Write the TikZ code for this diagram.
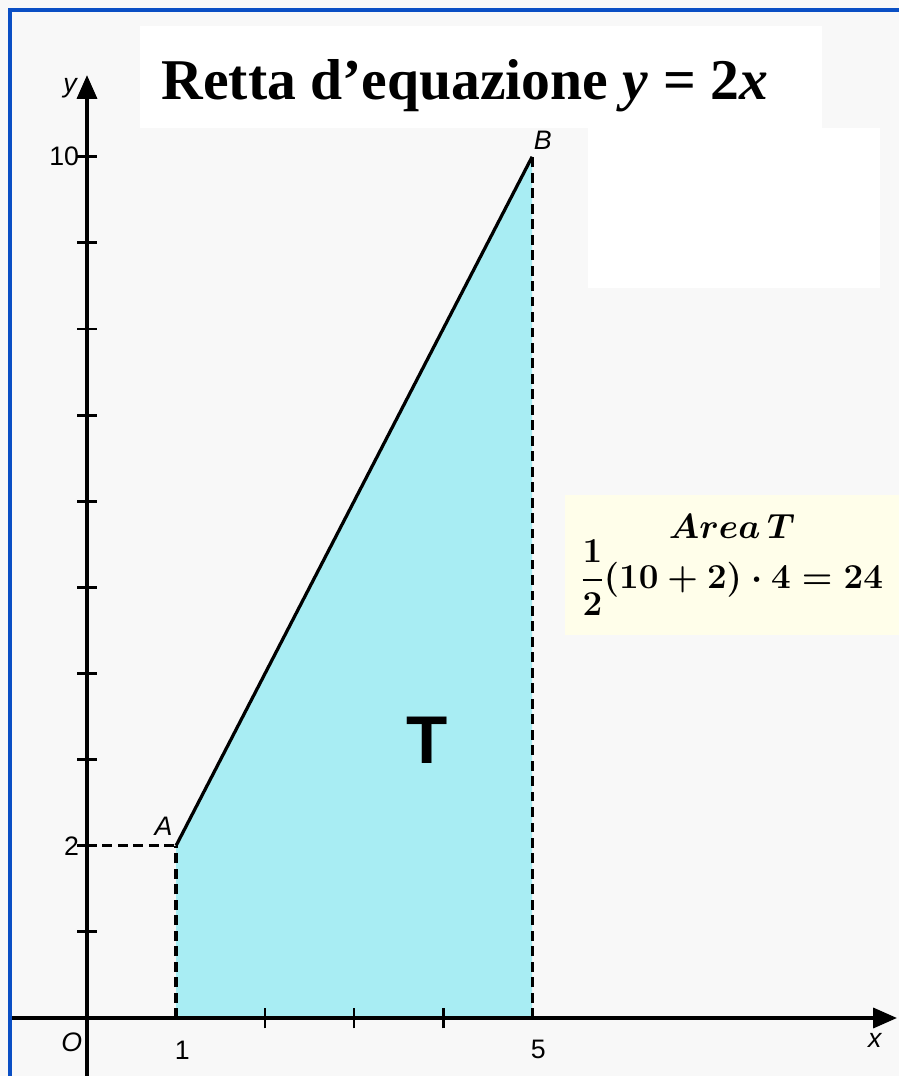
\documentclass[tikz,border=0pt]{standalone}
\usepackage{amsmath,amssymb}
\usepackage{fontspec}
\setmainfont{Liberation Serif}
\setsansfont{Liberation Sans}
\usepackage{tikz}
\usetikzlibrary{positioning,arrows.meta}
\definecolor{frameblue}{HTML}{0A4FC4}
\definecolor{paper}{HTML}{F8F8F8}
\definecolor{trapfill}{HTML}{A8EDF3}
\definecolor{notebg}{HTML}{FFFEEA}

\begin{document}
\begin{tikzpicture}[x=0.025cm,y=0.025cm,every node/.style={font=\sffamily\fontsize{19}{19}\selectfont,inner sep=1pt}]
    \tikzstyle{axis}=[line width=3pt,-{Triangle[length=17pt,width=14pt]}];
    \tikzstyle{guide}=[line width=2.2pt,dash pattern=on 7pt off 4pt];
    \tikzstyle{tick}=[line width=2pt];
    \tikzstyle{lbl}=[font=\sffamily\itshape\fontsize{19}{19}\selectfont];
    % page and boxes
    \fill[paper] (0,0) rectangle (899,1076);
    \useasboundingbox (0,0) rectangle (899,1076);
    \fill[white] (140,948) rectangle (822,1050);
    \fill[white] (588,788) rectangle (880,948);
    \draw[frameblue,line width=3.5pt] (10,0) -- (10,1066) -- (899,1066);
    \node[font=\bfseries\fontsize{41}{43}\selectfont,anchor=west] (title) at (160,990)
       {Retta d’equazione \textit{y} = 2\textit{x}};
    % graph
    \begin{scope}[shift={(87,58)},x=2.225cm,y=2.1525cm]
      \coordinate (O) at (0,0);
      \coordinate (A) at (1,2);
      \coordinate (B) at (5,10);
      \coordinate (A0) at (1,0);
      \coordinate (B0) at (5,0);
      \coordinate (Ay) at (0,2);
      \coordinate (xs) at (-0.84,0);
      \coordinate (xe) at (9.1,0);
      \coordinate (ys) at (0,-0.68);
      \coordinate (ye) at (0,10.95);
      \fill[trapfill] (A0) -- (A) -- (B) -- (B0) -- cycle;
      \draw[guide] (Ay) -- (A);
      \draw[guide] (A0) -- (A);
      \draw[guide] (B0) -- (B);
      \draw[axis] (xs) -- (xe);
      \draw[axis] (ys) -- (ye);
      \foreach \k in {1,...,10} \draw[tick] (-0.11,\k) -- (0.11,\k);
      \foreach \k in {2,3,4} \draw[tick] (\k,-0.12) -- (\k,0.12);
      \draw[line width=2.3pt] (A) -- (B);
      \node[anchor=east] (l10) at (-0.07,10) {10};
      \node[anchor=east] (l2) at (-0.07,2) {2};
      \node (l1) at (1.07,-0.37) {1};
      \node (l5) at (5.07,-0.37) {5};
      \node[lbl] (lO) at (-0.17,-0.28) {O};
      \node[lbl] (lx) at (8.85,-0.26) {x};
      \node[lbl] (ly) at (-0.19,10.8) {y};
      \node[lbl] (lA) at (0.86,2.22) {A};
      \node[lbl] (lB) at (5.12,10.19) {B};
    \end{scope}
    \node[font=\sffamily\bfseries\fontsize{48}{48}\selectfont] (T) at (427,336) {T};
    \node[fill=notebg,minimum width=8.35cm,minimum height=3.5cm,align=center,
          font=\boldmath\fontsize{23}{34}\selectfont] (area) at (732,511)
       {$Area\,T$\\ $\dfrac{1}{2}(10+2)\cdot 4=24$};
\end{tikzpicture}
\end{document}
